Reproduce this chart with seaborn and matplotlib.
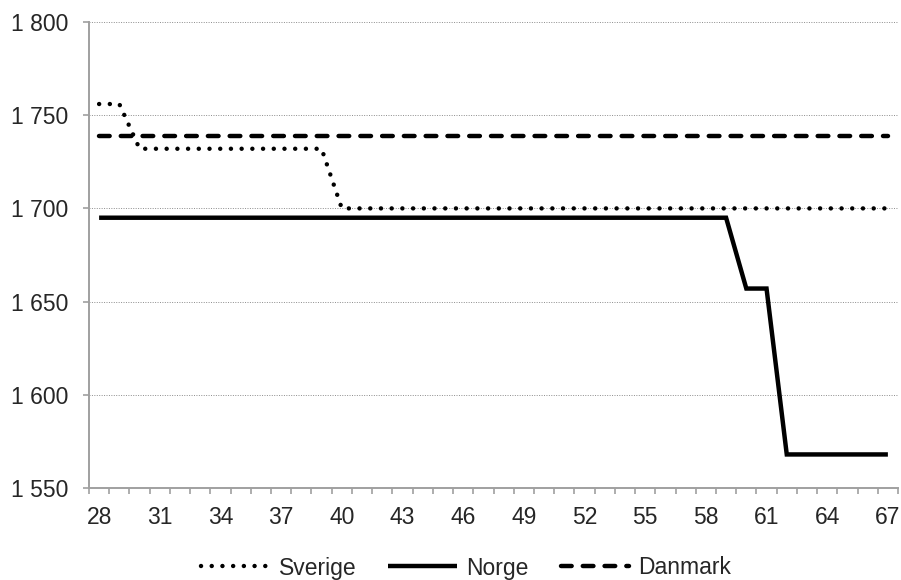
"""Arbeidstimer per år etter alder: Sverige, Norge, Danmark."""

import matplotlib
matplotlib.use("Agg")
import matplotlib.pyplot as plt
import numpy as np
import pandas as pd
import seaborn as sns
from matplotlib.ticker import FixedLocator, FuncFormatter

ages = list(range(28, 68))
sverige = [1756, 1756,
           1732, 1732, 1732, 1732, 1732, 1732, 1732, 1732, 1732, 1732,
           1700, 1700, 1700, 1700, 1700, 1700, 1700, 1700, 1700, 1700,
           1700, 1700, 1700, 1700, 1700, 1700, 1700, 1700, 1700, 1700,
           1700, 1700, 1700, 1700, 1700, 1700, 1700, 1700]
norge = [1695, 1695, 1695, 1695, 1695, 1695, 1695, 1695, 1695, 1695,
         1695, 1695, 1695, 1695, 1695, 1695, 1695, 1695, 1695, 1695,
         1695, 1695, 1695, 1695, 1695, 1695, 1695, 1695, 1695, 1695,
         1695, 1695, 1657, 1657, 1568, 1568, 1568, 1568, 1568, 1568]
danmark = [1739, 1739, 1739, 1739, 1739, 1739, 1739, 1739, 1739, 1739,
           1739, 1739, 1739, 1739, 1739, 1739, 1739, 1739, 1739, 1739,
           1739, 1739, 1739, 1739, 1739, 1739, 1739, 1739, 1739, 1739,
           1739, 1739, 1739, 1739, 1739, 1739, 1739, 1739, 1739, 1739]
countries = ["Sverige", "Norge", "Danmark"]
y_ticks = [1550, 1600, 1650, 1700, 1750, 1800]
x_labels = list(range(28, 68, 3))

df = pd.DataFrame({
    "alder": ages * 3,
    "timer": sverige + norge + danmark,
    "land": ["Sverige"] * len(ages) + ["Norge"] * len(ages) + ["Danmark"] * len(ages),
})

sns.set_style("white")
plt.rcParams["font.family"] = ["Liberation Sans", "DejaVu Sans"]
fs = 16.5

fig = plt.figure(figsize=(9.01, 5.8), dpi=100)
ax = fig.add_axes([89 / 901, 1 - 488 / 580, (898 - 89) / 901, (488 - 22) / 580])

sns.lineplot(
    data=df, x="alder", y="timer", hue="land", style="land",
    hue_order=countries, style_order=countries,
    palette={c: "black" for c in countries},
    dashes={"Sverige": (0.01, 2.4), "Norge": "", "Danmark": (2.4, 2.5)},
    linewidth=3.2, ax=ax, legend=False,
)
for line in ax.lines:
    line.set_dash_capstyle("round")
    line.set_solid_capstyle("butt")
    line.set_solid_joinstyle("miter")

ax.set_xlim(27.5, 67.5)
ax.set_ylim(1550, 1800)
ax.set_xlabel("")
ax.set_ylabel("")

ax.yaxis.set_major_locator(FixedLocator(y_ticks))
ax.yaxis.set_major_formatter(FuncFormatter(lambda v, _: f"{int(v):,}".replace(",", " ")))
ax.xaxis.set_major_locator(FixedLocator(np.arange(27.5, 68, 1)))
ax.xaxis.set_major_formatter(FuncFormatter(lambda v, _: ""))
ax.xaxis.set_minor_locator(FixedLocator(x_labels))
ax.xaxis.set_minor_formatter(FuncFormatter(lambda v, _: f"{int(v)}"))

grey = "#A0A0A0"
ax.tick_params(axis="y", which="major", direction="out", length=4.5, width=1.2,
               color=grey, labelsize=fs, pad=10.5, left=True)
ax.tick_params(axis="x", which="major", direction="out", length=4, width=1.2,
               color=grey, bottom=True)
ax.tick_params(axis="x", which="minor", length=0, labelsize=fs, pad=13)

for side in ["top", "right"]:
    ax.spines[side].set_visible(False)
for side in ["left", "bottom"]:
    ax.spines[side].set_color(grey)
    ax.spines[side].set_linewidth(1.4)

ax.grid(axis="y", linestyle=(0, (1, 1.5)), color="#8C8C8C", linewidth=0.7)
ax.grid(axis="x", visible=False)
ax.set_axisbelow(True)

handles = ax.lines[:3]
fig.legend(handles, countries, loc="center", bbox_to_anchor=(466 / 901, 1 - 568 / 580),
           ncol=3, frameon=False, fontsize=fs, handlelength=3.0,
           handletextpad=0.4, columnspacing=1.4, borderaxespad=0)

fig.savefig("out.png", dpi=100)
